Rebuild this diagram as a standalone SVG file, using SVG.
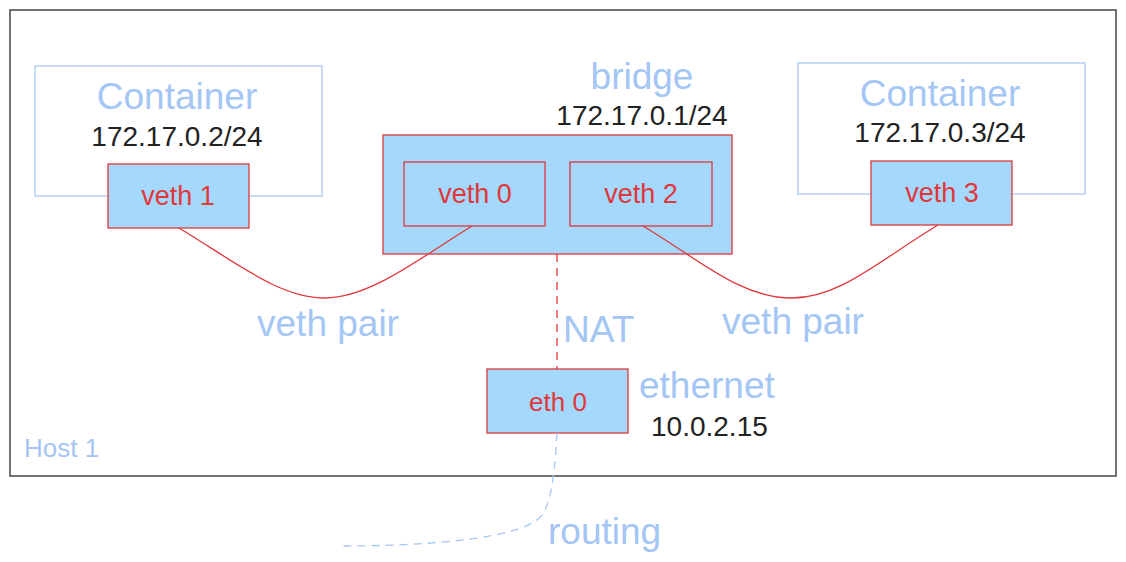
<svg xmlns="http://www.w3.org/2000/svg" width="1126" height="562" viewBox="0 0 1126 562">
<style>
text{font-family:"Liberation Sans",Arial,sans-serif}
.lbl{fill:#a4c6f4;font-size:37px}
.ip{fill:#222;font-size:28px}
.nic{fill:#a5d8fd;stroke:#e0373a;stroke-width:1.3}
.nict{fill:#e0373a;font-size:27px;text-anchor:middle}
.cont{fill:none;stroke:#a9c8f2;stroke-width:1.3}
.wire{fill:none;stroke:#e0373a;stroke-width:1.3}
</style>
<rect x="0" y="0" width="1126" height="562" fill="#fff"/>
<g id="host1">
<rect x="10" y="10" width="1106" height="466" fill="none" stroke="#444" stroke-width="1.5"/>
<text x="24" y="457" style="fill:#a4c6f4;font-size:26px">Host 1</text>
</g>
<g id="container1">
<rect class="cont" x="35" y="66" width="287" height="130"/>
<text class="lbl" x="177" y="109" text-anchor="middle">Container</text>
<text class="ip" x="177" y="146" text-anchor="middle">172.17.0.2/24</text>
</g>
<g id="veth1">
<rect class="nic" x="108" y="164" width="141" height="64"/>
<text class="nict" x="178" y="205">veth 1</text>
</g>
<g id="bridge">
<text class="lbl" x="642" y="89" text-anchor="middle">bridge</text>
<text class="ip" x="642" y="125" text-anchor="middle">172.17.0.1/24</text>
<rect class="nic" x="383" y="135" width="349" height="119"/>
</g>
<g id="veth0">
<rect class="nic" x="404" y="162" width="141" height="64"/>
<text class="nict" x="475" y="203">veth 0</text>
</g>
<g id="veth2">
<rect class="nic" x="570" y="162" width="142" height="64"/>
<text class="nict" x="641" y="203">veth 2</text>
</g>
<g id="container2">
<rect class="cont" x="798" y="63" width="287" height="131"/>
<text class="lbl" x="940" y="106" text-anchor="middle">Container</text>
<text class="ip" x="940" y="142" text-anchor="middle">172.17.0.3/24</text>
</g>
<g id="veth3">
<rect class="nic" x="871" y="161" width="141" height="64"/>
<text class="nict" x="942" y="202">veth 3</text>
</g>
<g id="eth0">
<rect class="nic" x="487" y="369" width="141" height="64"/>
<text class="nict" x="558" y="411" style="font-size:26px">eth 0</text>
<text class="lbl" x="639" y="398">ethernet</text>
<text class="ip" x="651" y="436">10.0.2.15</text>
</g>
<g id="connectors">
<path class="wire" d="M179 228 C240 265 280 298 325 298 C370 298 420 258 472 226"/>
<path class="wire" d="M643 226 C700 260 740 298 792 298 C840 298 880 260 938 225"/>
<path class="wire" d="M557 254 L557 369" stroke-dasharray="8 6"/>
<path d="M557 433 C555 470 552 495 545 510 C535 540 420 546 340 546" fill="none" stroke="#a4c6f4" stroke-width="1.3" stroke-dasharray="8 6"/>
<text class="lbl" x="328" y="336" text-anchor="middle">veth pair</text>
<text class="lbl" x="793" y="334" text-anchor="middle">veth pair</text>
<text class="lbl" x="563" y="342">NAT</text>
<text class="lbl" x="548" y="544">routing</text>
</g>
</svg>
